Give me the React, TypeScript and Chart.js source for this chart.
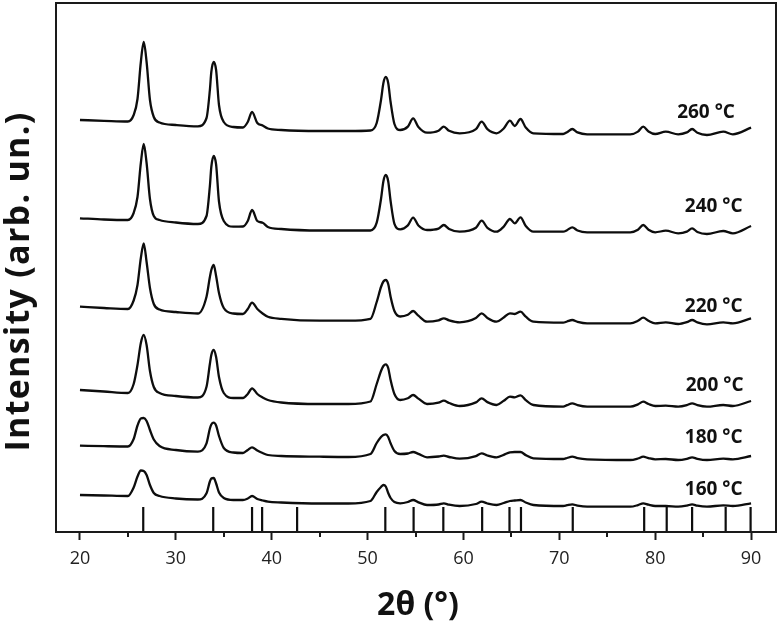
import React, { useEffect, useRef } from "react";
import { Chart, registerables } from "chart.js";

Chart.register(...registerables);

// 2θ positions (degrees) shared by all patterns
const twoTheta = [
  20, 22.5, 25.0, 25.6, 26.0, 26.35, 26.65, 26.95, 27.3, 27.7, 28.3, 30, 32.3,
  33.2, 33.55, 33.7, 33.95, 34.2, 34.5, 35.0, 36.0, 37.0, 37.5, 37.95, 38.5,
  39.05, 39.6, 41, 45, 48, 50.3, 50.95, 51.4, 51.65, 51.9, 52.15, 52.4, 52.8,
  53.4, 54.2, 54.75, 55.3, 56.2, 57.4, 57.95, 58.5, 59.6, 61.3, 61.9, 62.5,
  63.45, 64.2, 64.85, 65.35, 65.95, 66.5, 67.3, 70.4, 70.8, 71.35, 71.9, 72.9,
  77.4, 78.2, 78.75, 79.3, 80.0, 81.1, 82.4, 83.3, 83.85, 84.4, 85.4, 87.1, 88.1, 90,
];

// Stacked intensities (arb. un.) per annealing temperature
const i260 = [
  412, 411.2, 410.5, 417, 433, 470, 490, 470, 432, 415, 409.5, 407, 405.7,
  414, 442, 460, 470, 462, 427, 410, 405, 404.5, 410, 420, 409,
  406.5, 403.5, 402, 401, 401, 401.5, 409, 432, 449, 455, 449, 430, 408,
  402, 405.4, 413.7, 405, 399.3, 401.3, 405.3, 401.2, 398.7, 402.8, 410.3, 402.8,
  398.7, 403.5, 411.3, 406, 413, 404.4, 398.7, 398, 399.8, 403, 399.6, 397.7,
  397.7, 400.4, 405.3, 400.5, 398, 400.3, 397.7, 399.6, 403, 399.2, 397, 400.3, 397.7, 404.3,
];
const i240 = [
  313.7, 312.5, 312, 319, 335, 369, 388, 369, 333, 316, 312, 309.5, 308,
  316, 346, 365, 376, 367.5, 330.5, 311, 305.3, 305.5, 311, 322, 311,
  309.3, 305, 303, 301.5, 301.5, 301.5, 309.3, 333, 350.8, 357, 350.8, 331, 308.2,
  302.7, 306.6, 314.3, 306.5, 302, 303.4, 307, 303, 300.3, 304.2, 311.3, 304.2,
  300.3, 305.4, 313, 308.7, 314.7, 306, 300.3, 300.3, 301.8, 304.7, 301.5, 299.7,
  299.7, 302.3, 307, 302.3, 299.7, 301.3, 298.7, 300.4, 303.7, 300, 298, 301, 298.7, 306,
];
const i220 = [
  225.3, 224, 223, 231.5, 247, 274, 288.7, 270, 244, 228, 222.5, 220, 218.5,
  235.3, 255, 262, 267, 256, 239, 224, 218.5, 218, 223, 229.3, 223,
  218.5, 215.3, 213.2, 211.3, 211.3, 213.2, 230, 245, 250.5, 252, 248, 235.3, 221,
  215.5, 217.2, 221, 216.3, 210.3, 211.7, 213.7, 211.7, 209.7, 213.9, 218.7, 214,
  210.3, 214.5, 218.7, 218, 220.3, 215.3, 210.3, 209.3, 210.5, 212, 210.2, 208.7,
  208.7, 211.2, 214.3, 211.2, 208.7, 209.7, 208, 209.8, 212, 209.6, 207.7, 209.7, 208.7, 213.7,
];
const i200 = [
  142, 140.5, 139, 148, 167, 189, 197, 187, 161, 145, 139, 136, 134.5,
  145.3, 168, 177, 182, 175, 155, 139, 134, 134, 138, 143.7, 138,
  134.5, 132, 129.5, 128, 128, 130.5, 148, 161, 166, 167.7, 164, 152, 138,
  132, 133.7, 137, 133.4, 128, 129.3, 131.3, 129, 126, 129.6, 133.7, 129.9,
  127, 131.2, 135.3, 134.7, 136.7, 131.9, 127, 125.3, 126.8, 128.7, 126.8, 125.3,
  125.3, 127.6, 130.3, 128, 126, 126.3, 125.3, 126.8, 128.7, 126.8, 125.3, 127, 126, 131,
];
const i180 = [
  86.3, 85.8, 85.5, 93, 106.5, 113.5, 114, 111, 102, 92.5, 86, 82, 80.3,
  88.7, 103.5, 107.5, 109.3, 106.5, 96, 84, 79.5, 79, 82, 84.7, 81.5,
  79, 77, 76, 75.3, 75, 78, 89, 95, 97, 97.7, 95, 88.7, 81,
  78, 78.5, 80, 78.1, 74.7, 75.5, 76.3, 75, 73.3, 75.9, 78.7, 76.5,
  74.7, 77.2, 79.7, 80, 80, 76.9, 73.7, 73, 74, 75.3, 73.9, 72.7,
  72, 73.5, 75.3, 73.9, 72.7, 73, 72, 73.2, 74.7, 73.2, 72, 73.3, 72.7, 76,
];
const i160 = [
  37, 36.5, 36, 44.5, 55.5, 61.5, 61, 57, 47, 39, 36, 33.5, 32.5,
  38.7, 50.5, 53.5, 54, 48.5, 39.5, 34, 32, 32, 33.5, 36, 33,
  31.5, 30.3, 29.5, 28.5, 28.5, 31, 40, 45, 47, 45.5, 39, 34, 30,
  28.7, 30, 32, 29.7, 27, 27.5, 28.7, 27.3, 26, 28, 30.3, 28.5,
  27, 29, 31, 31.5, 32, 29.5, 27, 26, 26.8, 27.7, 26.4, 25.3,
  25.3, 26.9, 28.7, 27.3, 26, 26, 25.3, 26.4, 27.7, 26.3, 25.3, 26.7, 26, 28.7,
];

const temperatureLabels = ["260 °C", "240 °C", "220 °C", "200 °C", "180 °C", "160 °C"];
// label anchors in data units (centre x, baseline y)
const labelX = [85.3, 86.1, 86.1, 86.2, 86.1, 86.1];
const labelY = [413.7, 320.3, 220.3, 141.3, 89.3, 37];

// Reference pattern (stick) positions
const stickPositions = [
  26.6, 33.9, 37.95, 39.0, 42.65, 51.85, 54.8, 57.9, 61.95, 64.8, 66.0,
  71.4, 78.85, 81.2, 83.85, 87.35, 89.95,
];
const stickHeight = 25;

const xMajorTicks = [20, 30, 40, 50, 60, 70, 80, 90];
const xMinorTicks = [25, 35, 45, 55, 65, 75, 85];

export default function App() {
  const ref = useRef<HTMLCanvasElement>(null);

  useEffect(() => {
    if (!ref.current) return;
    const series = [i260, i240, i220, i200, i180, i160];
    const datasets: any[] = series.map((s) => ({
      data: twoTheta.map((x, i) => ({ x, y: s[i] })),
      borderColor: "#0d0d0d",
      borderWidth: 2.3,
      pointRadius: 0,
      cubicInterpolationMode: "monotone",
      fill: false,
    }));
    const stickData: any[] = [];
    stickPositions.forEach((p) => {
      stickData.push({ x: p, y: 0 }, { x: p, y: stickHeight }, { x: p, y: null });
    });
    datasets.push({
      data: stickData,
      borderColor: "#0d0d0d",
      borderWidth: 2.2,
      pointRadius: 0,
      tension: 0,
      spanGaps: false,
      fill: false,
    });

    const deco = {
      id: "deco",
      afterDraw(chart: any) {
        const { ctx, chartArea: a, scales } = chart;
        const xs = scales.x;
        const ys = scales.y;
        ctx.save();
        ctx.strokeStyle = "#1a1a1a";
        ctx.lineWidth = 2;
        ctx.strokeRect(a.left, a.top, a.right - a.left, a.bottom - a.top);
        ctx.beginPath();
        xMinorTicks.forEach((v) => {
          const px = Math.round(xs.getPixelForValue(v));
          ctx.moveTo(px, a.bottom);
          ctx.lineTo(px, a.bottom + 5);
        });
        ctx.stroke();

        ctx.fillStyle = "#111";
        ctx.textAlign = "center";
        ctx.textBaseline = "alphabetic";
        ctx.font = 'bold 19px "Open Sans"';
        temperatureLabels.forEach((t, i) => {
          ctx.fillText(t, xs.getPixelForValue(labelX[i]), ys.getPixelForValue(labelY[i]));
        });

        ctx.font = 'bold 32px "Open Sans"';
        ctx.fillText("2θ (°)", (a.left + a.right) / 2 + 2, a.bottom + 83);

        ctx.translate(29, (a.top + a.bottom) / 2 + 14);
        ctx.rotate(-Math.PI / 2);
        const yTitle = "Intensity (arb. un.)";
        ctx.font = 'bold 34px "Open Sans"';
        const w = ctx.measureText(yTitle).width;
        const target = 340;
        if (w < target) {
          const sp = Math.min(2, (target - w) / yTitle.length);
          (ctx as any).letterSpacing = sp.toFixed(2) + "px";
        }
        ctx.fillText(yTitle, 0, 0);
        ctx.restore();
      },
    };

    const chart = new Chart(ref.current, {
      type: "line",
      data: { datasets },
      options: {
        animation: false,
        responsive: false,
        devicePixelRatio: 1,
        events: [],
        layout: { padding: { left: 56, top: 3, right: 4, bottom: 0 } },
        plugins: { legend: { display: false }, tooltip: { enabled: false } },
        scales: {
          x: {
            type: "linear",
            min: 17.5,
            max: 92.6,
            afterBuildTicks: (s: any) => {
              s.ticks = xMajorTicks.map((v) => ({ value: v }));
            },
            afterFit: (s: any) => {
              s.height = 89;
            },
            grid: {
              drawOnChartArea: false,
              drawTicks: true,
              tickLength: 8,
              tickWidth: 2,
              tickColor: "#1a1a1a",
            },
            border: { display: false },
            ticks: {
              color: "#222",
              font: { family: "Open Sans", size: 18 },
              padding: 8,
              maxRotation: 0,
              autoSkip: false,
              callback: (v: any) => String(v),
            },
          },
          y: { type: "linear", min: 0, max: 529, display: false },
        },
      } as any,
      plugins: [deco],
    });
    return () => chart.destroy();
  }, []);

  return (
    <div style={{ position: "absolute", left: 0, top: 0, width: 780, height: 621 }}>
      <canvas ref={ref} width={780} height={621} style={{ display: "block" }} />
    </div>
  );
}
